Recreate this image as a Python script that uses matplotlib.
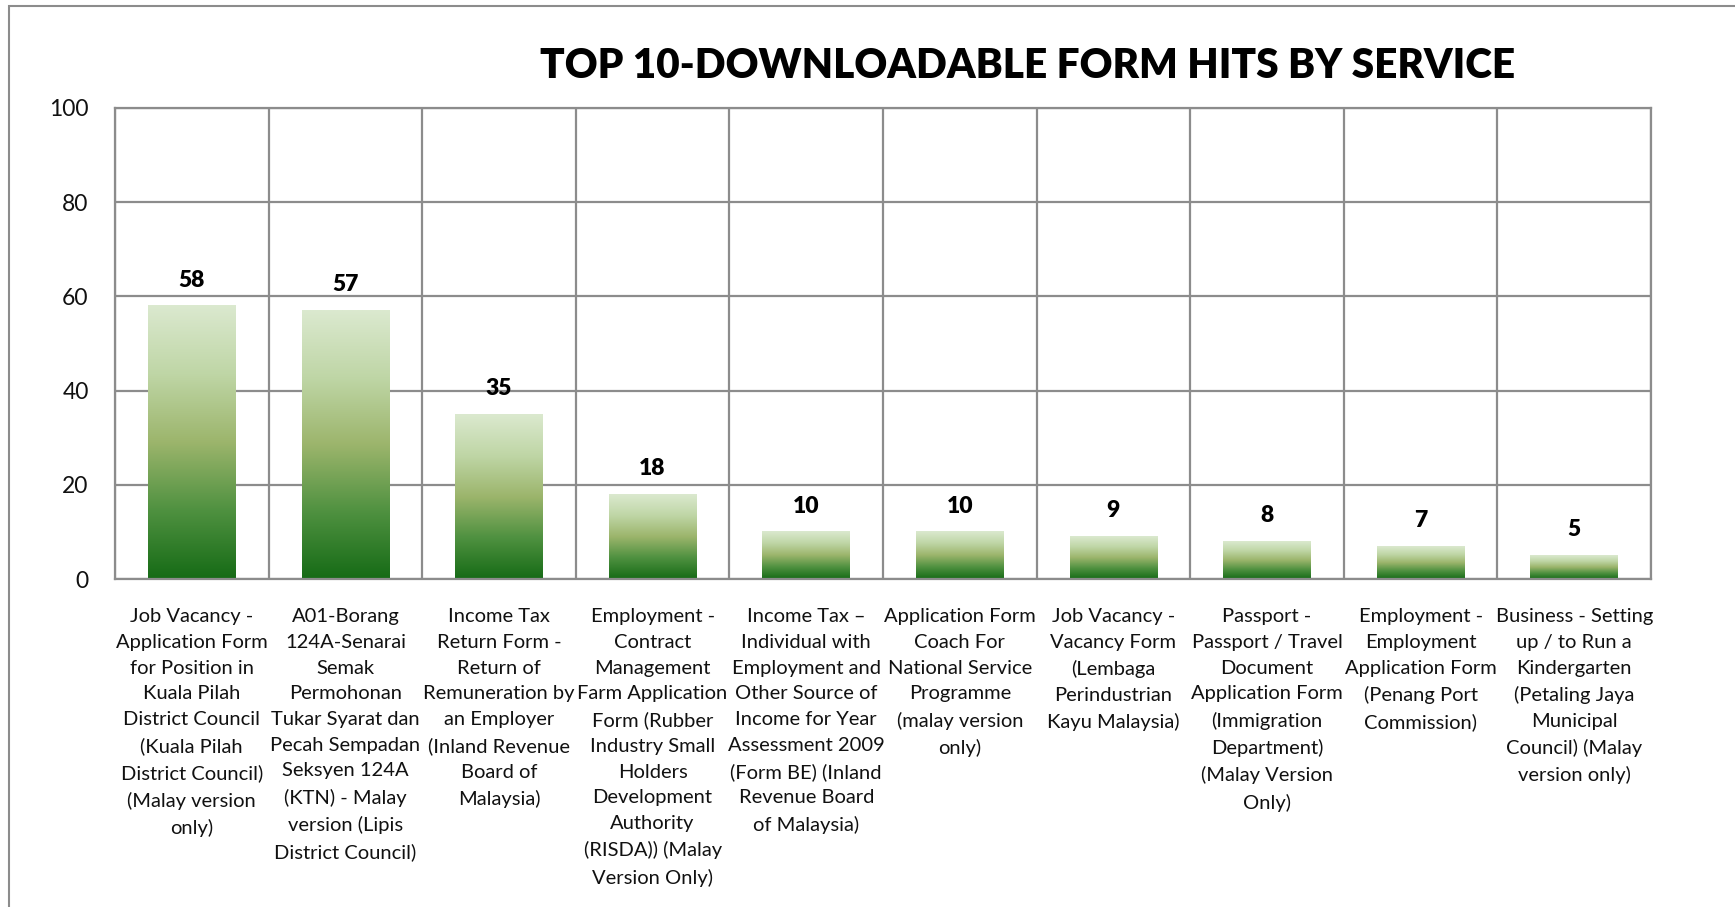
import matplotlib
matplotlib.use("Agg")
import matplotlib.pyplot as plt
import numpy as np
from matplotlib.colors import LinearSegmentedColormap
from matplotlib.patches import Rectangle

plt.rcParams['font.family'] = ['Lato', 'DejaVu Sans']

title = "TOP 10-DOWNLOADABLE FORM HITS BY SERVICE"
categories = [
    "Job Vacancy -\nApplication Form\nfor Position in\nKuala Pilah\nDistrict Council\n(Kuala Pilah\nDistrict Council)\n(Malay version\nonly)",
    "A01-Borang\n124A-Senarai\nSemak\nPermohonan\nTukar Syarat dan\nPecah Sempadan\nSeksyen 124A\n(KTN) - Malay\nversion (Lipis\nDistrict Council)",
    "Income Tax\nReturn Form -\nReturn of\nRemuneration by\nan Employer\n(Inland Revenue\nBoard of\nMalaysia)",
    "Employment -\nContract\nManagement\nFarm Application\nForm (Rubber\nIndustry Small\nHolders\nDevelopment\nAuthority\n(RISDA)) (Malay\nVersion Only)",
    "Income Tax \u2013\nIndividual with\nEmployment and\nOther Source of\nIncome for Year\nAssessment 2009\n(Form BE) (Inland\nRevenue Board\nof Malaysia)",
    "Application Form\nCoach For\nNational Service\nProgramme\n(malay version\nonly)",
    "Job Vacancy -\nVacancy Form\n(Lembaga\nPerindustrian\nKayu Malaysia)",
    "Passport -\nPassport / Travel\nDocument\nApplication Form\n(Immigration\nDepartment)\n(Malay Version\nOnly)",
    "Employment -\nEmployment\nApplication Form\n(Penang Port\nCommission)",
    "Business - Setting\nup / to Run a\nKindergarten\n(Petaling Jaya\nMunicipal\nCouncil) (Malay\nversion only)",
]
hits = [58, 57, 35, 18, 10, 10, 9, 8, 7, 5]
y_ticks = [0, 20, 40, 60, 80, 100]

W, H = 1735, 907
fig = plt.figure(figsize=(W / 100, H / 100), dpi=100)
ax = fig.add_axes([115 / W, 1 - 579 / H, (1651 - 115) / W, (579 - 108) / H])

# outer frame
fig.patches.append(Rectangle((9 / W, -0.05), 1.2, 1 - 6 / H + 0.05, transform=fig.transFigure,
                             fill=False, edgecolor='#8c8c8c', linewidth=1.5, zorder=0))

x = np.arange(len(hits))
bars = ax.bar(x, hits, width=0.57, color='none', edgecolor='none', zorder=2)

cmap = LinearSegmentedColormap.from_list(
    'g', [(0.0, '#166b16'), (0.25, '#4f9140'), (0.5, '#9cb56c'), (0.75, '#bfd6a6'), (1.0, '#dbe9cf')])
grad = np.linspace(0, 1, 256).reshape(-1, 1)
for b in bars:
    bx, by, bw, bh = b.get_x(), b.get_y(), b.get_width(), b.get_height()
    ax.imshow(grad, cmap=cmap, aspect='auto', origin='lower',
              extent=(bx, bx + bw, by, by + bh), zorder=2, interpolation='bilinear')

for xi, v in zip(x, hits):
    ax.annotate(str(v), (xi, v), xytext=(0, 11), textcoords='offset points',
                ha='center', va='bottom', fontsize=16.5, fontweight='heavy', color='#000000')

ax.set_xlim(-0.5, len(hits) - 0.5)
ax.set_ylim(0, 100)
ax.set_yticks(y_ticks)
ax.set_yticklabels([str(t) for t in y_ticks], fontsize=16.5)
ax.set_xticks(x)
ax.set_xticklabels(categories, fontsize=14.5, linespacing=1.62, va='top')
ax.tick_params(axis='both', length=0, colors='#111111')
ax.tick_params(axis='x', pad=21)
ax.tick_params(axis='y', pad=19)

# grid lines
for t in y_ticks:
    ax.axhline(t, color='#8c8c8c', linewidth=1.6, zorder=1)
for b in np.arange(-0.5, len(hits), 1.0):
    ax.axvline(b, color='#8c8c8c', linewidth=1.6, zorder=1)
for s in ax.spines.values():
    s.set_color('#8c8c8c')
    s.set_linewidth(1.6)

fig.text(1028 / W, 1 - 66 / H, title, ha='center', va='center', fontsize=29.2,
         fontweight='heavy', color='#000000')

fig.savefig('out.png', dpi=100)
